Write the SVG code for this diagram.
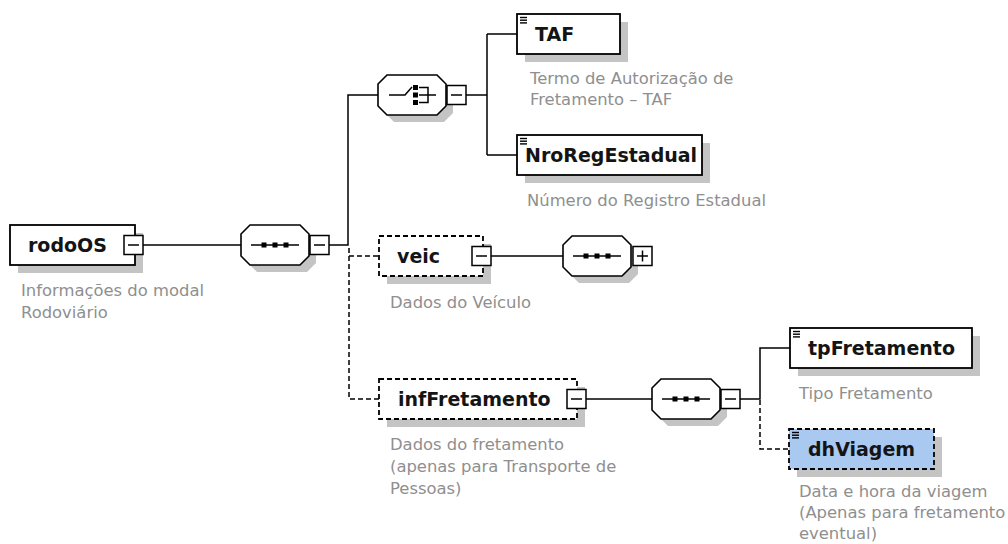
<svg xmlns="http://www.w3.org/2000/svg" xmlns:xlink="http://www.w3.org/1999/xlink" width="1008" height="544" viewBox="0 0 1008 544">
<style>
.box{fill:#fff;stroke:#000;stroke-width:1.8}
.opt{stroke-dasharray:5,3}
.sh{fill:#c4c4c4;stroke:none}
.oct{fill:#fff;stroke:#000;stroke-width:1.6}
.ln{fill:none;stroke:#000;stroke-width:1.5}
.dl{fill:none;stroke:#000;stroke-width:1.5;stroke-dasharray:5,3}
.nm{font-family:"DejaVu Sans",Verdana,sans-serif;font-weight:bold;font-size:19px;fill:#141414}
.ds{font-family:"DejaVu Sans",Verdana,sans-serif;font-size:16.4px;fill:#8f8f8f}
.ic{stroke:#000;stroke-width:1.4}
</style>
<defs>
<path id="oct" d="M9,0 H59 L68,9 V31 L59,40 H9 L0,31 V9 Z"/>
<g id="minus"><rect x="0" y="0" width="19" height="19" fill="#fff" stroke="#000" stroke-width="1.5"/><line x1="4" y1="9.5" x2="15" y2="9.5" stroke="#000" stroke-width="1.5"/></g>
<g id="plus"><rect x="0" y="0" width="19" height="19" fill="#fff" stroke="#000" stroke-width="1.5"/><line x1="4" y1="9.5" x2="15" y2="9.5" stroke="#000" stroke-width="1.5"/><line x1="9.5" y1="4" x2="9.5" y2="15" stroke="#000" stroke-width="1.5"/></g>
<g id="seqsym"><line x1="10" y1="20" x2="58" y2="20" stroke="#000" stroke-width="1.5"/><rect x="20.5" y="17.5" width="5" height="5" fill="#000"/><rect x="31.5" y="17.5" width="5" height="5" fill="#000"/><rect x="42.5" y="17.5" width="5" height="5" fill="#000"/></g>
<g id="chsym" stroke="#000" stroke-width="1.5" fill="none"><path d="M11,20 H27 L34,12"/><rect x="35" y="10" width="5" height="5" fill="#000" stroke="none"/><rect x="35" y="17.5" width="5" height="5" fill="#000" stroke="none"/><rect x="35" y="25" width="5" height="5" fill="#000" stroke="none"/><path d="M41,12.5 H50 V27.5 H41 M41,20 H58"/></g>
<g id="icon" class="ic"><line x1="0" y1="0" x2="7" y2="0"/><line x1="0" y1="2.7" x2="7" y2="2.7"/><line x1="0" y1="5.4" x2="7" y2="5.4"/></g>
</defs>

<g id="connectors">
<path class="ln" d="M143,245 H241"/>
<path class="ln" d="M329,245 H348 V95 H378"/>
<path class="ln" d="M465,95 H487 M487,34 V155 M487,34 H517 M487,155 H517"/>
<path class="dl" d="M349,248 V399 H379"/>
<path class="dl" d="M349,256 H379"/>
<path class="ln" d="M491,256 H563"/>
<path class="ln" d="M586,399 H652"/>
<path class="ln" d="M739,399 H760 V348 H790"/>
<path class="dl" d="M760,400 V449 H789"/>
</g>

<g id="rodoOS">
<rect class="sh" x="18" y="233" width="125" height="40"/>
<rect class="box" x="10" y="225" width="125" height="40"/>
<text class="nm" x="28" y="252">rodoOS</text>
<use xlink:href="#minus" x="124" y="235.5"/>
<text class="ds" x="21" y="296">Informações do modal</text>
<text class="ds" x="21" y="318">Rodoviário</text>
</g>

<g id="seq1">
<use xlink:href="#oct" class="sh" x="248" y="232"/>
<use xlink:href="#oct" class="oct" x="241" y="225"/>
<use xlink:href="#seqsym" x="241" y="225"/>
<use xlink:href="#minus" x="310" y="235.5"/>
</g>

<g id="choice">
<use xlink:href="#oct" class="sh" x="385" y="82"/>
<use xlink:href="#oct" class="oct" x="378" y="75"/>
<use xlink:href="#chsym" x="378" y="75"/>
<use xlink:href="#minus" x="447" y="85.5"/>
</g>

<g id="TAF">
<rect class="sh" x="525" y="22" width="103" height="40"/>
<rect class="box" x="517" y="14" width="103" height="40"/>
<use xlink:href="#icon" x="520" y="17.5"/>
<text class="nm" x="535" y="41">TAF</text>
<text class="ds" x="530" y="84">Termo de Autorização de</text>
<text class="ds" x="530" y="105">Fretamento – TAF</text>
</g>

<g id="NroRegEstadual">
<rect class="sh" x="525" y="143" width="185" height="40"/>
<rect class="box" x="517" y="135" width="185" height="40"/>
<use xlink:href="#icon" x="520" y="138.5"/>
<text class="nm" x="525" y="162">NroRegEstadual</text>
<text class="ds" x="527" y="206">Número do Registro Estadual</text>
</g>

<g id="veic">
<rect class="sh" x="387" y="244" width="104" height="40"/>
<rect class="box opt" x="379" y="236" width="104" height="40"/>
<text class="nm" x="397" y="263">veic</text>
<use xlink:href="#minus" x="472" y="246.5"/>
<text class="ds" x="390" y="308">Dados do Veículo</text>
</g>

<g id="seq2">
<use xlink:href="#oct" class="sh" x="570" y="243"/>
<use xlink:href="#oct" class="oct" x="563" y="236"/>
<use xlink:href="#seqsym" x="563" y="236"/>
<use xlink:href="#plus" x="633" y="246.5"/>
</g>

<g id="infFretamento">
<rect class="sh" x="387" y="387" width="198" height="40"/>
<rect class="box opt" x="379" y="379" width="198" height="40"/>
<text class="nm" x="398" y="406">infFretamento</text>
<use xlink:href="#minus" x="567" y="389.5"/>
<text class="ds" x="390" y="450">Dados do fretamento</text>
<text class="ds" x="390" y="472">(apenas para Transporte de</text>
<text class="ds" x="390" y="494">Pessoas)</text>
</g>

<g id="seq3">
<use xlink:href="#oct" class="sh" x="659" y="386"/>
<use xlink:href="#oct" class="oct" x="652" y="379"/>
<use xlink:href="#seqsym" x="652" y="379"/>
<use xlink:href="#minus" x="721" y="389.5"/>
</g>

<g id="tpFretamento">
<rect class="sh" x="798" y="336" width="182" height="40"/>
<rect class="box" x="790" y="328" width="182" height="40"/>
<use xlink:href="#icon" x="793" y="331.5"/>
<text class="nm" x="808" y="355">tpFretamento</text>
<text class="ds" x="799" y="399">Tipo Fretamento</text>
</g>

<g id="dhViagem">
<rect class="sh" x="797" y="437" width="145" height="40"/>
<rect class="box opt" x="789" y="429" width="145" height="40" style="fill:#aac9f1"/>
<use xlink:href="#icon" x="792" y="432.5"/>
<text class="nm" x="808" y="456">dhViagem</text>
<text class="ds" x="799" y="497">Data e hora da viagem</text>
<text class="ds" x="799" y="518">(Apenas para fretamento</text>
<text class="ds" x="799" y="539">eventual)</text>
</g>
</svg>
